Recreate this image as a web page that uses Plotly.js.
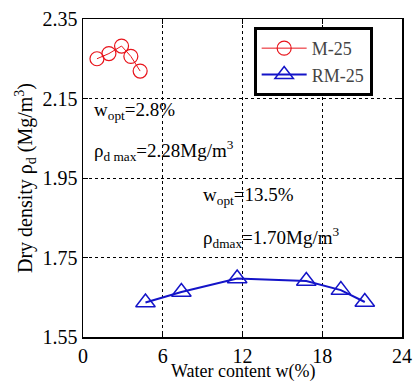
<!DOCTYPE html>
<html><head><meta charset="utf-8">
<script src="https://cdn.plot.ly/plotly-3.0.1.min.js"></script>
<style>html,body{margin:0;padding:0;background:#fff}#chart{width:413px;height:385px}</style>
</head><body><div id="chart"></div>
<script>
const m25_w = [1.05, 1.95, 2.9, 3.6, 4.3];
const m25_rho = [2.25, 2.263, 2.282, 2.256, 2.219];
const rm25_w = [4.7, 7.4, 11.6, 16.8, 19.4, 21.2];
const rm25_rho = [1.637, 1.663, 1.697, 1.691, 1.668, 1.638];
const xTicks = [0, 6, 12, 18, 24];
const yTicks = [1.55, 1.75, 1.95, 2.15, 2.35];
const xTitle = 'Water content w(%)';
const font = '"Liberation Serif", "Times New Roman", serif';

const traces = [
  {x: m25_w, y: m25_rho, name: 'M-25', mode: 'lines+markers', type: 'scatter',
   line: {color: '#e8141b', width: 1},
   marker: {symbol: 'circle-open', size: 14, color: '#e8141b', line: {width: 1.2}}},
  {x: rm25_w, y: rm25_rho, name: 'RM-25', mode: 'lines+markers', type: 'scatter',
   line: {color: '#1414c8', width: 2},
   marker: {symbol: 'triangle-up-open', size: 17, color: '#1414c8', line: {width: 1.5}}}
];

const axisCommon = {
  showline: true, linecolor: '#000', linewidth: 1.5, mirror: 'ticks',
  ticks: 'inside', ticklen: 5, tickcolor: '#000',
  showgrid: true, gridcolor: '#000', griddash: 'dot', gridwidth: 1,
  zeroline: false, tickfont: {family: font, size: 20, color: '#000'}
};

const layout = {
  width: 413, height: 385,
  margin: {l: 83, r: 11, t: 19, b: 48},
  paper_bgcolor: '#fff', plot_bgcolor: '#fff',
  font: {family: font},
  showlegend: true,
  legend: {x: 0.535, y: 0.975, xanchor: 'left', yanchor: 'top',
    bordercolor: '#000', borderwidth: 3, bgcolor: '#fff',
    font: {family: font, size: 18}, tracegroupgap: 0, itemwidth: 45},
  xaxis: Object.assign({}, axisCommon, {range: [0, 24], tickvals: xTicks}),
  yaxis: Object.assign({}, axisCommon, {range: [1.55, 2.35], tickvals: yTicks,
    tickformat: '.2f',
    title: {text: 'Dry density ρ<sub>d</sub> (Mg/m<sup>3</sup>)', font: {family: font, size: 20, color: '#000'}, standoff: 4}}),
  annotations: [
    {x: 0.5, y: -0.146, xref: 'paper', yref: 'paper', xanchor: 'center', yanchor: 'bottom', showarrow: false,
     text: xTitle, font: {family: font, size: 18, color: '#000'}, borderpad: 0},
    {x: 0.7, y: 2.118, xref: 'x', yref: 'y', xanchor: 'left', showarrow: false,
     text: 'w<sub>opt</sub>=2.8%', font: {family: font, size: 19, color: '#000'}},
    {x: 0.7, y: 2.018, xref: 'x', yref: 'y', xanchor: 'left', showarrow: false,
     text: 'ρ<sub>d max</sub>=2.28Mg/m<sup>3</sup>', font: {family: font, size: 19, color: '#000'}},
    {x: 8.9, y: 1.905, xref: 'x', yref: 'y', xanchor: 'left', showarrow: false,
     text: 'w<sub>opt</sub>=13.5%', font: {family: font, size: 19, color: '#000'}},
    {x: 8.9, y: 1.80, xref: 'x', yref: 'y', xanchor: 'left', showarrow: false,
     text: 'ρ<sub>dmax</sub>=1.70Mg/m<sup>3</sup>', font: {family: font, size: 19, color: '#000'}}
  ]
};

Plotly.newPlot('chart', traces, layout, {displayModeBar: false, staticPlot: true});
</script></body></html>
